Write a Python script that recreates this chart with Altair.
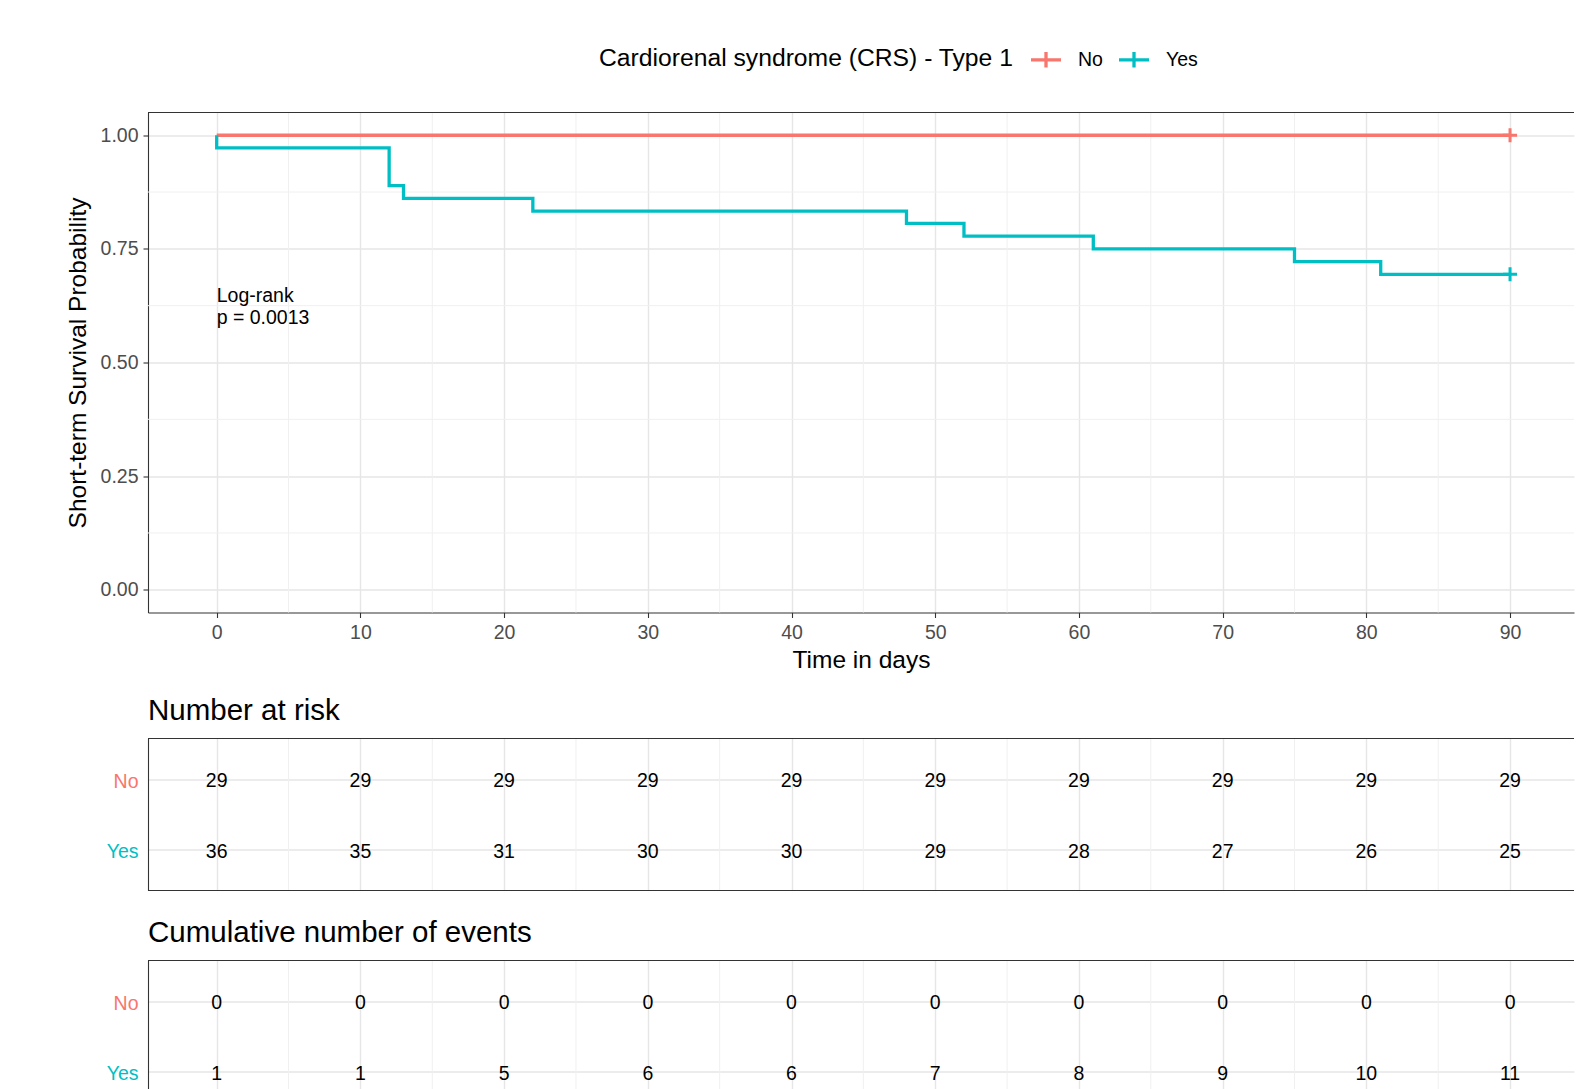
import altair as alt
import pandas as pd

# ---------------- data ----------------
strata = ["No", "Yes"]
strata_colors = ["#F8766D", "#00BFC4"]

no_time = [0, 90]
no_surv = [1.0, 1.0]
yes_time = [0, 0, 12, 13, 22, 48, 52, 61, 75, 81, 90]
yes_surv = [1.0, 0.972, 0.889, 0.861, 0.833, 0.806, 0.778, 0.750, 0.722, 0.694, 0.694]

censor_time = [90, 90]
censor_surv = [1.0, 0.694]
censor_group = ["No", "Yes"]

table_times = [0, 10, 20, 30, 40, 50, 60, 70, 80, 90]
risk_no = [29, 29, 29, 29, 29, 29, 29, 29, 29, 29]
risk_yes = [36, 35, 31, 30, 30, 29, 28, 27, 26, 25]
events_no = [0, 0, 0, 0, 0, 0, 0, 0, 0, 0]
events_yes = [1, 1, 5, 6, 6, 7, 8, 9, 10, 11]

x_minor = [5, 15, 25, 35, 45, 55, 65, 75, 85]
y_major = [0.0, 0.25, 0.5, 0.75, 1.0]
y_minor = [0.125, 0.375, 0.625, 0.875]

pval_x = [0]
pval_y = [0.647]
pval_label = ["Log-rank\np = 0.0013"]

legend_title = "Cardiorenal syndrome (CRS) - Type 1"

# ---------------- layout constants ----------------
FONT = "Liberation Sans"
X_DOMAIN = [-4.78, 94.45]
W = 1426
H_MAIN = 500
H_TAB = 152
GRID = "#E6E6E6"
MINOR = "#F0F0F0"
DARK = "#333333"

xscale = alt.Scale(domain=X_DOMAIN, nice=False, zero=False)
cscale = alt.Scale(domain=strata, range=strata_colors)
yscale = alt.Scale(domain=[-0.05, 1.05], nice=False, zero=False)

surv_df = pd.DataFrame({
    "time": no_time + yes_time,
    "surv": no_surv + yes_surv,
    "group": ["No"] * len(no_time) + ["Yes"] * len(yes_time),
    "order": list(range(len(no_time))) + list(range(len(yes_time))),
})
censor_df = pd.DataFrame({"time": censor_time, "surv": censor_surv, "group": censor_group})
pval_df = pd.DataFrame({"time": pval_x, "surv": pval_y, "label": pval_label})
xminor_df = pd.DataFrame({"time": x_minor})
yminor_df = pd.DataFrame({"surv": y_minor})
border_df = pd.DataFrame({"b": [0]})

# ---------------- main survival plot ----------------
x_axis_main = alt.Axis(
    values=table_times, grid=True, gridColor=GRID, gridWidth=1.4,
    domainColor=DARK, domainWidth=1.1, tickColor=DARK, tickWidth=1.1, tickSize=5,
    labelColor="#4D4D4D", labelFontSize=19.5, labelPadding=6, labelFont=FONT,
    title="Time in days", titleFontSize=24.5, titleFontWeight="normal",
    titleColor="black", titlePadding=6.5, titleFont=FONT,
)
y_axis_main = alt.Axis(
    values=y_major, format=".2f", grid=True, gridColor=GRID, gridWidth=1.4,
    domainColor=DARK, domainWidth=1.1, tickColor=DARK, tickWidth=1.1, tickSize=5,
    labelColor="#4D4D4D", labelFontSize=19.5, labelPadding=5, labelFont=FONT,
    title="Short-term Survival Probability", titleFontSize=24.5,
    titleFontWeight="normal", titleColor="black", titlePadding=10, titleFont=FONT,
)

X = alt.X("time:Q", scale=xscale, axis=x_axis_main)
Y = alt.Y("surv:Q", scale=yscale, axis=y_axis_main)

minor_x = alt.Chart(xminor_df).mark_rule(color=MINOR, strokeWidth=1.0).encode(x=X)
minor_y = alt.Chart(yminor_df).mark_rule(color=MINOR, strokeWidth=1.0).encode(y=Y)

top_border = alt.Chart(border_df).mark_rule(color=DARK, strokeWidth=1.1).encode(
    x=alt.value(0), x2=alt.value(W), y=alt.value(0)
)

lines = alt.Chart(surv_df).mark_line(interpolate="step-after", strokeWidth=3.3).encode(
    x=X,
    y=Y,
    order="order:Q",
    color=alt.Color(
        "group:N", scale=cscale,
        legend=alt.Legend(
            title=legend_title, orient="none", direction="horizontal",
            legendX=451, legendY=-70, titleOrient="left", titleAnchor="middle",
            titleBaseline="middle", titleLimit=1000,
            titleFontSize=24.7, titleFontWeight="normal", titleColor="black",
            titleFont=FONT, titlePadding=15,
            labelFontSize=19.5, labelColor="black", labelFont=FONT, labelOffset=15,
            columnPadding=9, padding=0,
            symbolType="M-1,0H1M0,-0.52V0.52", symbolSize=900,
            symbolStrokeWidth=3.3,
        ),
    ),
)

censor = alt.Chart(censor_df).mark_point(
    shape="M-1,0H1M0,-1V1", size=196, filled=False, strokeWidth=3, opacity=1
).encode(
    x=X, y=Y,
    color=alt.Color("group:N", scale=cscale, legend=None),
)

pval = alt.Chart(pval_df).mark_text(
    align="left", baseline="middle", fontSize=19.5, font=FONT, color="black",
    lineBreak="\n", lineHeight=22.5,
).encode(x=X, y=Y, text="label:N")

main = alt.layer(minor_x, minor_y, lines, censor, pval, top_border).properties(
    width=W, height=H_MAIN
)

# ---------------- tables ----------------
label_color = {"condition": {"test": "datum.value === 'No'", "value": strata_colors[0]},
               "value": strata_colors[1]}


def table(values_no, values_yes, title, extent):
    df = pd.DataFrame({
        "time": table_times + table_times,
        "group": ["No"] * len(table_times) + ["Yes"] * len(table_times),
        "n": values_no + values_yes,
    })
    tx = alt.X("time:Q", scale=xscale, axis=alt.Axis(
        values=table_times, grid=True, gridColor=GRID, gridWidth=1.4,
        labels=False, ticks=False, domain=False, title=None,
        labelPadding=0, maxExtent=extent, minExtent=extent))
    ty = alt.Y("group:N", scale=alt.Scale(domain=strata, padding=0.58), axis=alt.Axis(
        title=None, ticks=False, domain=True, domainColor=DARK, domainWidth=1.1,
        grid=True, gridColor=GRID, gridWidth=1.4, labelFontSize=19.5, labelFont=FONT,
        labelPadding=10, labelOffset=2, labelColor=label_color))
    mx = alt.Chart(xminor_df).mark_rule(color=MINOR, strokeWidth=1.0).encode(x=tx)
    txt = alt.Chart(df).mark_text(fontSize=19.5, font=FONT, color="black", dy=2).encode(
        x=tx, y=ty, text="n:Q",
    )
    top = alt.Chart(border_df).mark_rule(color=DARK, strokeWidth=1.1).encode(
        x=alt.value(0), x2=alt.value(W), y=alt.value(0)
    )
    bottom = alt.Chart(border_df).mark_rule(color=DARK, strokeWidth=1.1).encode(
        x=alt.value(0), x2=alt.value(W), y=alt.value(H_TAB)
    )
    return alt.layer(mx, txt, top, bottom).properties(
        width=W, height=H_TAB,
        title=alt.TitleParams(title, anchor="start", frame="group", fontSize=29.5,
                              fontWeight="normal", color="black", font=FONT, offset=11),
    )


risk = table(risk_no, risk_yes, "Number at risk", 4)
events = table(events_no, events_yes, "Cumulative number of events", 0)

chart = alt.vconcat(main, risk, events, spacing=23).resolve_scale(
    color="independent"
).properties(
    padding={"left": 57, "top": 34.5, "right": 0, "bottom": 5}
).configure(font=FONT).configure_view(stroke=None)

chart.save("out.html", embed_options={"renderer": "svg", "actions": False})
